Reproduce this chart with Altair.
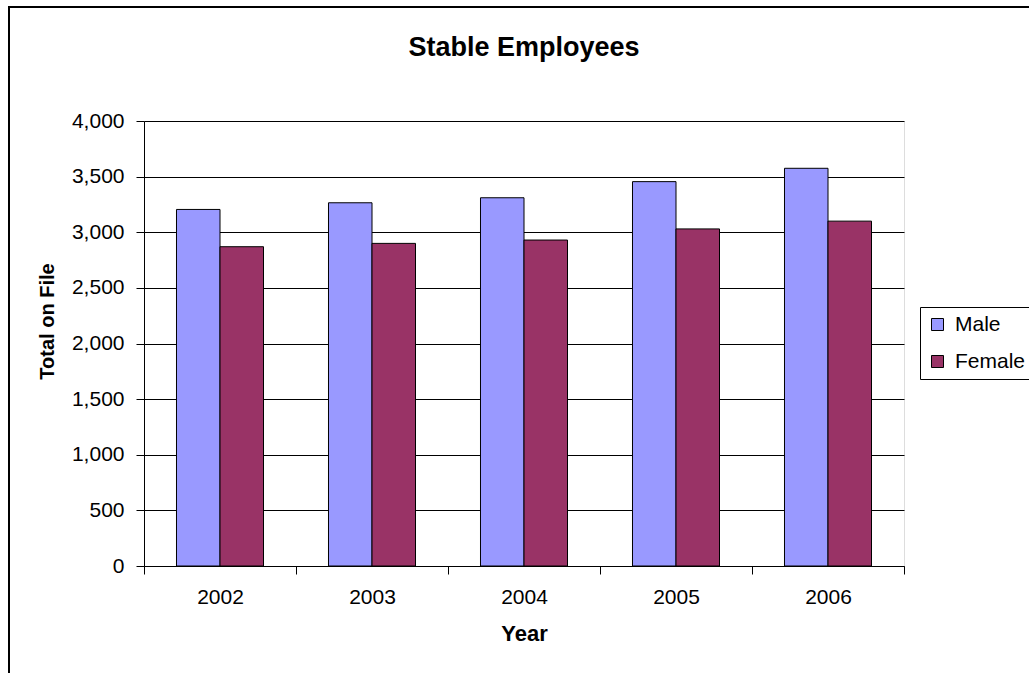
import altair as alt
import pandas as pd

years = ["2002", "2003", "2004", "2005", "2006"]
male = [3205, 3265, 3310, 3455, 3575]
female = [2870, 2900, 2930, 3030, 3100]
series = ["Male", "Female"]
colors = ["#9999FF", "#993366"]
y_ticks = [0, 500, 1000, 1500, 2000, 2500, 3000, 3500, 4000]

rows = []
for i, yr in enumerate(years):
    rows.append({"Year": yr, "Sex": "Male", "Total": male[i]})
    rows.append({"Year": yr, "Sex": "Female", "Total": female[i]})
df = pd.DataFrame(rows)

FONT = "Liberation Sans"
W, H = 760, 445

frame = alt.Chart(pd.DataFrame({"a": [0]})).mark_rect(
    filled=False, stroke="black", strokeWidth=2, clip=False
).encode(
    x=alt.value(-135), x2=alt.value(905), y=alt.value(-114), y2=alt.value(580)
)

bars = alt.Chart(df).mark_bar(stroke="black", strokeWidth=1).encode(
    x=alt.X(
        "Year:N",
        sort=years,
        title="Year",
        scale=alt.Scale(paddingInner=0, paddingOuter=0),
        axis=alt.Axis(
            labelAngle=0, tickBand="extent", tickSize=8, tickColor="black",
            domainColor="black", labelFontSize=21, labelFont=FONT, labelColor="black",
            labelPadding=12, titleFontSize=22, titleFont=FONT, titleFontWeight="bold",
            titleColor="black", titlePadding=16, grid=False,
        ),
    ),
    xOffset=alt.XOffset(
        "Sex:N", sort=series, scale=alt.Scale(domain=series, paddingInner=0, paddingOuter=0.747)
    ),
    y=alt.Y(
        "Total:Q",
        title="Total on File",
        scale=alt.Scale(domain=[0, 4000], nice=False),
        axis=alt.Axis(
            values=y_ticks, format=",.0f", tickSize=8, tickColor="black", domainColor="black",
            labelFontSize=21, labelFont=FONT, labelColor="black", labelPadding=12,
            grid=True, gridColor="black", gridOpacity=1, gridWidth=1,
            titleFontSize=20, titleFont=FONT, titleFontWeight="bold", titleColor="black",
            titleX=-97, titleY=200, titleAngle=270, titleAlign="center", titleBaseline="middle",
        ),
    ),
    color=alt.Color(
        "Sex:N",
        sort=series,
        scale=alt.Scale(domain=series, range=colors),
        legend=alt.Legend(
            title=None, orient="none", legendX=776, legendY=186, padding=7,
            strokeColor="black", fillColor="white", symbolType="square", symbolSize=144,
            symbolStrokeColor="black", symbolStrokeWidth=1, symbolOpacity=1,
            labelFontSize=21, labelFont=FONT, labelColor="black", rowPadding=15, labelOffset=7,
        ),
    ),
)

chart = alt.layer(frame, bars).properties(
    width=W,
    height=H,
    autosize=alt.AutoSizeParams(type="none"),
    padding={"left": 144, "top": 121, "right": 125, "bottom": 107},
    title=alt.Title(
        "Stable Employees", fontSize=27, font=FONT, fontWeight="bold", color="black",
        anchor="middle", frame="group", offset=-56,
    ),
).configure_view(
    fill="#C0C0C0", stroke="#808080", strokeWidth=1
).configure(background="white", font=FONT)

chart.save("out.html", embed_options={"renderer": "svg", "actions": False})
